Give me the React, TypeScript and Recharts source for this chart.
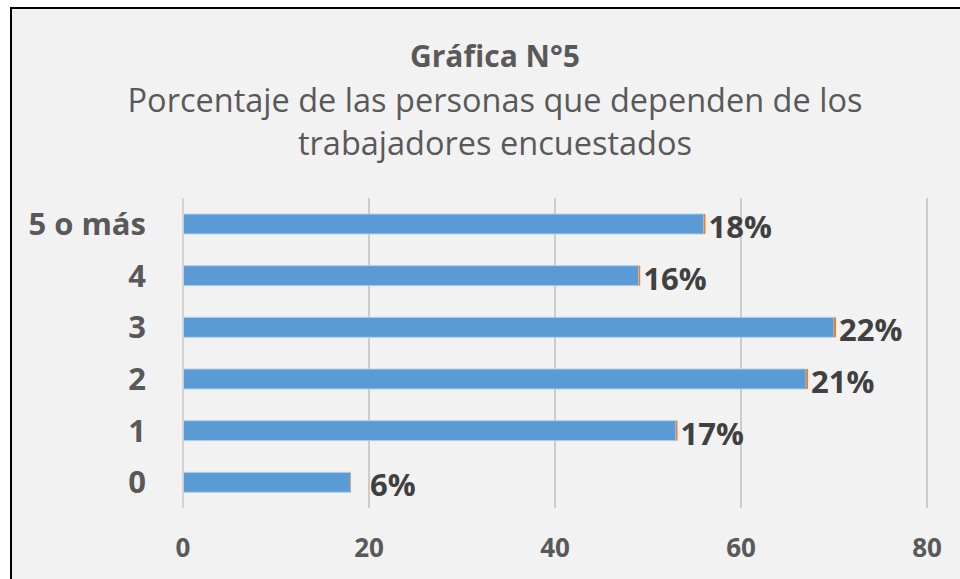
import React from "react";
import {
  Bar,
  BarChart,
  CartesianGrid,
  LabelList,
  XAxis,
  YAxis,
} from "recharts";

const categories = ["0", "1", "2", "3", "4", "5 o más"];
const personas = [18, 53, 67, 70, 49, 56];
const porcentajes = [0.06, 0.17, 0.21, 0.22, 0.16, 0.18];
const xTicks = [0, 20, 40, 60, 80];

const data = categories.map((name, i) => ({
  name,
  personas: personas[i],
  porcentaje: porcentajes[i],
}));

const FONT = "'Open Sans', 'Noto Sans', sans-serif";

const PctLabel = (props: any) => {
  const { x, y, width, height, value, index } = props;
  const extra = index === 0 ? 16 : 0;
  return (
    <text
      x={x + width + 3 + extra}
      y={y + height / 2 + 2}
      dominantBaseline="central"
      fill="#404040"
      fontSize={31}
      fontWeight={700}
      fontFamily={FONT}
    >
      {Math.round(value * 100)}%
    </text>
  );
};

export default function App() {
  return (
    <div
      style={{
        position: "fixed",
        left: 0,
        top: 0,
        width: 960,
        height: 579,
        overflow: "hidden",
        fontFamily: FONT,
      }}
    >
      <div
        style={{
          position: "absolute",
          left: 10,
          top: 7,
          width: 948,
          height: 570,
          borderLeft: "2px solid #000",
          borderTop: "2px solid #000",
          background: "#f2f2f2",
        }}
      />
      <div
        style={{
          position: "absolute",
          left: 12,
          width: 966,
          top: 36,
          textAlign: "center",
          color: "#595959",
        }}
      >
        <div style={{ fontSize: 30, fontWeight: 700, lineHeight: "40px" }}>
          Gráfica N°5
        </div>
        <div style={{ fontSize: 32.5, lineHeight: "43px", marginTop: 2 }}>
          Porcentaje de las personas que dependen de los
          <br />
          trabajadores encuestados
        </div>
      </div>
      <div style={{ position: "absolute", left: 0, top: 0 }}>
        <BarChart
          width={960}
          height={579}
          layout="vertical"
          data={data}
          barSize={20}
          margin={{ top: 198, right: 33, bottom: 0, left: 0 }}
        >
          <CartesianGrid horizontal={false} stroke="#bfbfbf" strokeWidth={1.5} />
          <XAxis
            type="number"
            domain={[0, 80]}
            ticks={xTicks}
            height={71}
            axisLine={false}
            tickLine={false}
            tickSize={0}
            tickMargin={31}
            tick={{ fontSize: 26, fontWeight: 700, fill: "#595959", fontFamily: FONT }}
          />
          <YAxis
            type="category"
            dataKey="name"
            reversed
            width={183}
            axisLine={{ stroke: "#d9d9d9", strokeWidth: 1.5 }}
            tickLine={false}
            tickSize={0}
            tickMargin={37}
            tick={{ fontSize: 31, fontWeight: 700, fill: "#595959", fontFamily: FONT }}
          />
          <Bar
            dataKey="personas"
            stackId="a"
            fill="#5b9bd5"
            stroke="#b4cfeb"
            strokeWidth={1}
            isAnimationActive={false}
          />
          <Bar
            dataKey="porcentaje"
            stackId="a"
            fill="#ed7d31"
            isAnimationActive={false}
          >
            <LabelList dataKey="porcentaje" content={<PctLabel />} />
          </Bar>
        </BarChart>
      </div>
    </div>
  );
}
